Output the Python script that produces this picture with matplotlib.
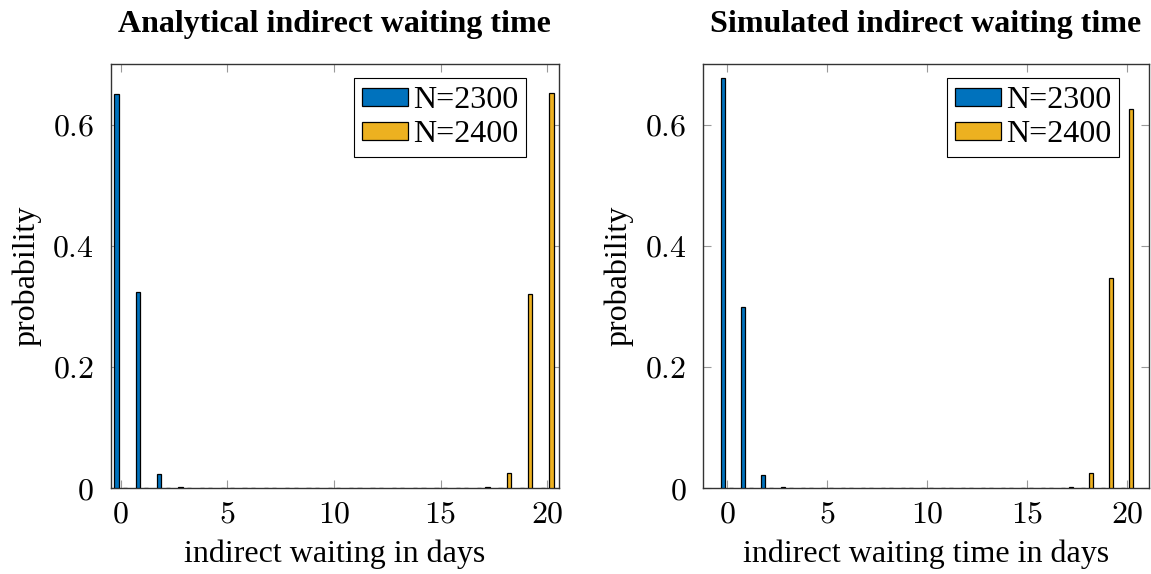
#!/usr/bin/env python3
import numpy as np
import matplotlib.pyplot as plt
from matplotlib.ticker import FuncFormatter

plt.rcParams['font.family'] = ['Liberation Serif', 'DejaVu Serif']
plt.rcParams['mathtext.fontset'] = 'cm'

DAYS = list(range(0, 21))
SERIES = ["N=2300", "N=2400"]
COLORS = ["#0072BD", "#EDB120"]

# analytical distribution of the indirect waiting time
ANALYTICAL_2300 = [0.650, 0.323, 0.023, 0.002] + [0.0] * 17
ANALYTICAL_2400 = [0.0] * 17 + [0.002, 0.024, 0.321, 0.652]

# simulated distribution of the indirect waiting time
SIMULATED_2300 = [0.677, 0.299, 0.022, 0.001] + [0.0] * 17
SIMULATED_2400 = [0.0] * 17 + [0.001, 0.025, 0.347, 0.625]

PANELS = [
    ("Analytical indirect waiting time", "indirect waiting in days",
     [ANALYTICAL_2300, ANALYTICAL_2400], (-0.47, 20.55), 0.926),
    ("Simulated indirect waiting time", "indirect waiting time in days",
     [SIMULATED_2300, SIMULATED_2400], (-1.22, 21.09), 0.933),
]

FS = 23
fig = plt.figure(figsize=(11.51, 5.74), dpi=100)
positions = [[0.0962, 0.1498, 0.3895, 0.7387],
             [0.6108, 0.1498, 0.3875, 0.7387]]

x = np.array(DAYS)
for pos, (title, xlabel, data, xlim, leg_x) in zip(positions, PANELS):
    ax = fig.add_axes(pos)
    for i, (vals, label, color) in enumerate(zip(data, SERIES, COLORS)):
        offset = -0.2 if i == 0 else 0.2
        ax.bar(x + offset, vals, width=0.2, color=color, edgecolor='black',
               linewidth=0.9, label=label, zorder=3)

    ax.set_xlim(*xlim)
    ax.set_ylim(0, 0.70)
    ax.set_xticks([0, 5, 10, 15, 20])
    ax.set_yticks([0, 0.2, 0.4, 0.6])
    ax.xaxis.set_major_formatter(FuncFormatter(lambda v, _: f'${v:g}$'))
    ax.yaxis.set_major_formatter(FuncFormatter(lambda v, _: f'${v:g}$'))
    ax.tick_params(direction='in', top=True, right=True, length=6,
                   width=0.8, color='#999999', labelsize=FS)
    ax.tick_params(axis='y', pad=12)
    ax.tick_params(axis='x', pad=9)
    for s in ax.spines.values():
        s.set_color('#333333')
        s.set_linewidth(1.0)

    ax.set_title(title, fontsize=FS, fontweight='bold', pad=23)
    ax.set_xlabel(xlabel, fontsize=FS, labelpad=7)
    ax.set_ylabel('probability', fontsize=FS, labelpad=8)

    leg = ax.legend(loc='upper right', bbox_to_anchor=(leg_x, 0.966),
                    fontsize=FS, frameon=True, fancybox=False,
                    edgecolor='black', framealpha=1, borderaxespad=0,
                    handlelength=1.45, handleheight=0.48, handletextpad=0.15,
                    borderpad=0.25, labelspacing=0.15)
    leg.get_frame().set_linewidth(0.8)

fig.savefig('out.png', dpi=100)
